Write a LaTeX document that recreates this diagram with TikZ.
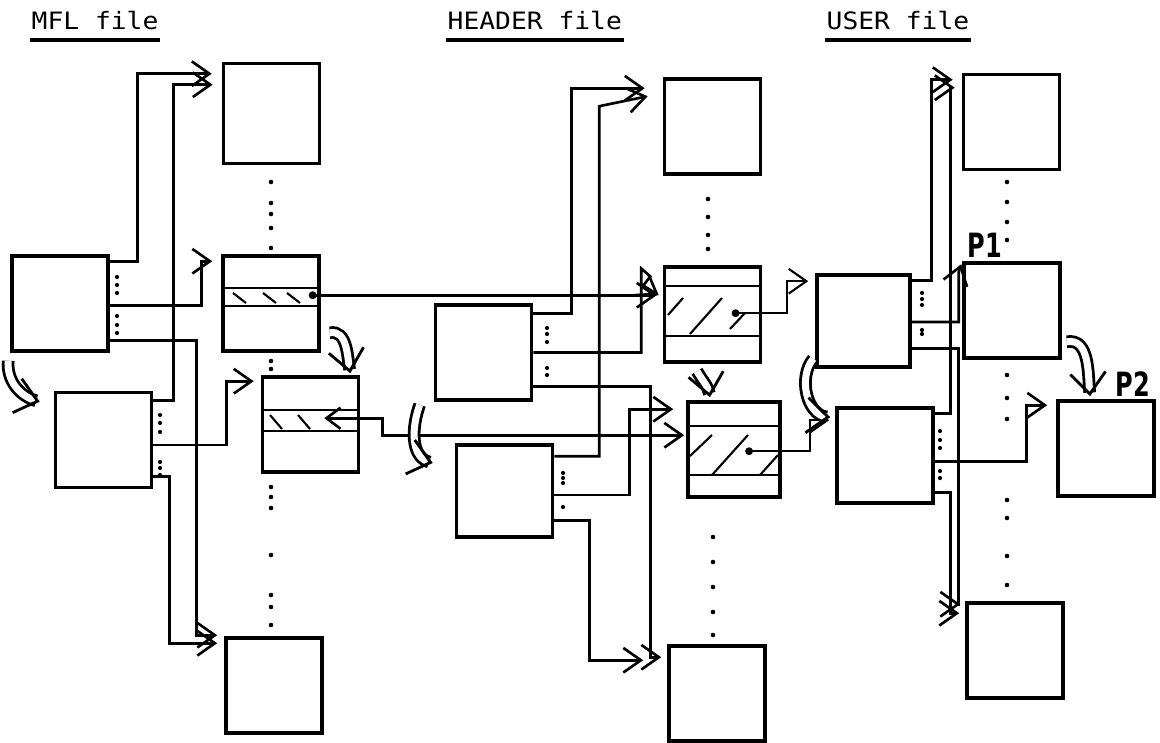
\documentclass[tikz,border=0pt]{standalone}
\usepackage{fontspec}
\usepackage{tikz}
\usetikzlibrary{arrows.meta, calc}
\newfontfamily\filefont[FakeStretch=1.1]{DejaVu Sans Mono}
\newfontfamily\handfont[FakeStretch=0.72]{DejaVu Sans}

\begin{document}
\begin{tikzpicture}[x=0.01cm, y=-0.01cm,
    box/.style={rectangle, draw, line width=1pt, inner sep=0pt, minimum width=0.96cm, minimum height=0.95cm},
    link/.style={line width=0.75pt, -{Straight Barb[length=5pt, width=7pt]}},
    ptr/.style={line width=0.75pt, {Circle[length=2.2pt]}-{Straight Barb[length=5pt, width=7pt]}},
    turn/.style={double, double distance=2pt, line width=0.8pt, -{Straight Barb[length=6pt, width=10pt]}},
    title/.style={font=\filefont\fontsize{6.8pt}{8pt}\selectfont, inner sep=0pt, anchor=base west},
    tag/.style={font=\handfont\bfseries\fontsize{9.5pt}{11pt}\selectfont, inner sep=0pt}
]
\useasboundingbox (0,0) rectangle (1160,743);

% titles
\node[title] (tmfl) at (31,30) {MFL file};
\node[title] (thdr) at (447,30) {HEADER file};
\node[title] (tusr) at (826,30) {USER file};
\foreach \t in {tmfl,thdr,tusr}
    \draw[line width=1pt] ($(\t.base west)+(-1,10)$) -- ($(\t.base east)+(1,10)$);

% MFL file
\node[box] (mA) at (60,303.5) {};
\node[box] (mB) at (103.5,440) {};
\node[box, minimum height=1cm] (mTop) at (271.5,113.5) {};
\node[box] (mP) at (271,303.5) {};
\node[box] (mQ) at (310.5,424.5) {};
\node[box] (mBot) at (274,685.5) {};

% HEADER file
\node[box] (hA) at (483.5,352.5) {};
\node[box, minimum height=0.92cm] (hB) at (504.5,491) {};
\node[box] (hTop) at (712.5,126.5) {};
\node[box] (hP) at (712.5,314.5) {};
\node[box, minimum width=0.92cm] (hQ) at (734,449.5) {};
\node[box] (hBot) at (717,693.5) {};

% USER file
\node[box, minimum width=0.93cm, minimum height=0.92cm] (uA) at (863.5,321) {};
\node[box] (uB) at (885,455.5) {};
\node[box] (uTop) at (1011.5,122) {};
\node[box] (uP1) at (1012,310.5) {};
\node[box] (uP2) at (1106,448.5) {};
\node[box] (uBot) at (1015,650.5) {};
\node[tag] (p1) at (985,245) {P1};
\node[tag] (p2) at (1133,384) {P2};

% bands of the entry boxes
\draw[semithick] ($(mP.north west)+(0,34)$) -- ($(mP.north east)+(0,34)$);
\draw[semithick] ($(mP.north west)+(0,52)$) -- ($(mP.north east)+(0,52)$);
\draw[semithick] ($(mQ.north west)+(0,35)$) -- ($(mQ.north east)+(0,35)$);
\draw[semithick] ($(mQ.north west)+(0,56)$) -- ($(mQ.north east)+(0,56)$);
\draw[semithick] ($(hP.north west)+(0,21)$) -- ($(hP.north east)+(0,21)$);
\draw[semithick] ($(hP.north west)+(0,71)$) -- ($(hP.north east)+(0,71)$);
\draw[semithick] ($(hQ.north west)+(0,26)$) -- ($(hQ.north east)+(0,26)$);
\draw[semithick] ($(hQ.north west)+(0,75)$) -- ($(hQ.north east)+(0,75)$);
% hatching
\foreach \a/\b in {233/293, 263/293, 287/293}
    \draw[semithick] (\a,\b) -- ++(13,10);
\foreach \a/\b in {270/415, 298/415}
    \draw[semithick] (\a,\b) -- ++(12,14);
\draw[semithick] (668,315) -- (683,298);
\draw[semithick] (690,334) -- (722,298);
\draw[semithick] (730,329) -- (745,313);
\draw[semithick] (690,456) -- (712,435);
\draw[semithick] (712,475) -- (748,435);
\draw[semithick] (760,475) -- (778,455);

% dots down the files
\foreach \y in {182,203,214,228,248,361,369,487,497,508,555,595,607,625}
    \fill (271,\y) circle (0.65pt);
\foreach \y in {199,217,235,249}
    \fill (708,\y) circle (0.65pt);
\foreach \y in {537,562,587,612,635}
    \fill (713,\y) circle (0.65pt);
\foreach \y in {182,202,222,240,375,398,419,500,518,556,585}
    \fill (1007,\y) circle (0.65pt);
% dots beside the ports
\foreach \x/\y in {117/277,117/285,117/293,117/316,117/325,117/333,
    160/415,160/423,160/432,160/462,160/468,160/475,
    547/328,547/334,547/342,547/368,547/375,
    563/473,563/478,563/483,563/507,
    922/293,922/299,922/305,922/330,922/334,
    940/431,940/440,940/448,940/471,940/478}
    \fill (\x,\y) circle (0.6pt);

% MFL links
\draw[link] ($(mA.north east)+(0,7)$) -- ++(28,0) |- ($(mTop.north west)+(-10,12)$);
\draw[link] ($(mA.east)+(0,2)$) -- ++(92,0) |- ($(mP.north west)+(-9,7)$);
\draw[link] ($(mA.south east)+(0,-12)$) -- ++(87,0) |- ($(mBot.north west)+(-7,-1)$);
\draw[link] ($(mB.north east)+(0,10)$) -- ++(20,0) |- ($(mTop.north west)+(-9,23)$);
\draw[link] ($(mB.east)+(0,5)$) -- ++(73,0) |- ($(mQ.north west)+(-7,6)$);
\draw[link] ($(mB.south east)+(0,-13)$) -- ++(16,0) |- ($(mBot.north west)+(-7,7)$);
\draw[ptr] ($(mP.north east)+(-12,41)$) -- ($(hP.north west)+(-6,30)$);
\draw[line width=0.75pt, {Straight Barb[length=4pt, width=6pt]}-{Straight Barb[length=5pt, width=7pt]}]
    ($(mQ.north east)+(-36,43)$) -- ++(58,0) |- ($(hQ.north west)+(-2,35)$);

% HEADER links
\draw[link] ($(hA.north east)+(0,10)$) -- ++(38,0) |- ($(hTop.north west)+(-18,11)$);
\draw[link] (hA.east) -- ++(108,0) -- ++(0,-84) -- ++(9,8) -- ++(-7,9)
    -- ($(hP.north west)+(-4,30)$);
\draw[link] ($(hA.south east)+(0,-15)$) -- ++(117,0) |- ($(hBot.north west)+(-6,13)$);
\draw[link] ($(hB.north east)+(0,13)$) -- ++(45,0) -- ++(0,-350) -- ($(hTop.north west)+(-15,19)$);
\draw[link] ($(hB.east)+(0,4)$) -- ++(75,0) |- ($(hQ.north west)+(-13,9)$);
\draw[link] ($(hB.south east)+(0,-18)$) -- ++(35,0) |- ($(hBot.north west)+(-24,16)$);
\draw[ptr, semithick] ($(hP.north west)+(69,48)$) -- ++(55,0) |- ($(uA.north west)+(-7,8)$);
\draw[ptr, semithick] ($(hQ.north west)+(59,51)$) -- ++(65,0) |- ($(uB.north west)+(-6,14)$);

% USER links
\draw[link] ($(uA.north east)+(0,7)$) -- ++(20,0) |- ($(uTop.north west)+(-9,7)$);
\draw[link] ($(uA.east)+(0,1)$) -- ++(47,0) -- ++(0,-50) -- ($(uP1.north west)+(-1,3)$);
\draw[link] ($(uA.south east)+(0,-20)$) -- ++(47,0) |- ($(uBot.north west)+(-5,3)$);
\draw[link] ($(uB.north east)+(0,7)$) -- ++(16,0) |- ($(uTop.north west)+(-7,15)$);
\draw[link] ($(uB.east)+(0,6)$) -- ++(92,0) |- ($(uP2.north west)+(-9,6)$);
\draw[link] ($(uB.south east)+(0,-12)$) -- ++(16,0) |- ($(uBot.north west)+(-6,12)$);

% next-record arrows
\draw[turn] ($(mA.south west)+(-2,8)$) to[out=-95, in=165] ($(mB.north west)+(-14,11)$);
\draw[turn] ($(mP.south east)+(9,-20)$) to[out=10, in=100] ($(mQ.north east)+(-10,-2)$);
\draw[turn] ($(hA.south west)+(-14,3)$) to[out=-110, in=165] ($(hB.west)+(-22,-28)$);
\draw[turn] ($(hQ.north)+(-37,-29)$) to[out=-60, in=100] ($(hQ.north)+(-24,-3)$);
\draw[turn] ($(uA.south west)+(-2,-10)$) to[out=-130, in=175] ($(uB.north west)+(-5,11)$);
\draw[turn] ($(uP1.south east)+(5,-18)$) to[out=10, in=95] ($(uP2.north)+(-16,-3)$);
\end{tikzpicture}
\end{document}
